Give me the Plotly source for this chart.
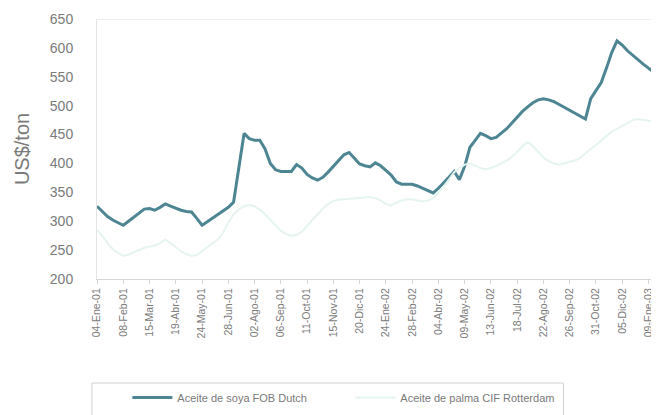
import plotly.graph_objects as go

# Weekly prices, US$/ton (Jan 2001 - Jan 2003)
soya = [326, 317, 308, 302, 298, 293, 300, 307, 315, 321,
        322, 319, 324, 330, 326, 322, 319, 317, 316, 305,
        293, 299, 305, 312, 318, 324, 333, 395, 452, 443,
        440, 440, 425, 400, 389, 386, 386, 386, 398, 392,
        381, 375, 371, 376, 385, 395, 405, 415, 419, 408,
        399, 396, 394, 401, 396, 388, 380, 368, 364, 364,
        364, 361, 357, 353, 349, 357, 366, 376, 386, 372,
        395, 428, 440, 452, 448, 443, 445, 452, 460, 470,
        480, 490, 498, 505, 510, 512, 510, 507, 502, 497,
        492, 487, 482, 477, 512, 525, 540, 565, 592, 612,
        605, 595, 587, 580, 572, 565, 557, 550]

palma = [285, 275, 262, 252, 245, 240, 242, 246, 250, 254,
         256, 258, 262, 268, 262, 255, 248, 243, 240, 242,
         248, 255, 262, 268, 280, 298, 312, 320, 326, 328,
         326, 320, 312, 302, 292, 283, 278, 275, 276, 282,
         292, 302, 312, 322, 330, 335, 337, 338, 338, 339,
         340, 341, 342, 340, 336, 330, 327, 332, 336, 338,
         338, 336, 334, 336, 340, 350, 360, 372, 385, 392,
         398, 400, 396, 392, 390, 392, 396, 400, 405, 412,
         420, 430, 437, 430, 420, 410, 404, 400, 398, 400,
         402, 405, 410, 418, 425, 432, 440, 448, 455, 460,
         465, 470, 475, 477, 476, 474, 472, 470]

tick_labels = ["04-Ene-01", "08-Feb-01", "15-Mar-01", "19-Abr-01", "24-May-01",
               "28-Jun-01", "02-Ago-01", "06-Sep-01", "11-Oct-01", "15-Nov-01",
               "20-Dic-01", "24-Ene-02", "28-Feb-02", "04-Abr-02", "09-May-02",
               "13-Jun-02", "18-Jul-02", "22-Ago-02", "26-Sep-02", "31-Oct-02",
               "05-Dic-02", "09-Ene-03"]

weeks = list(range(len(soya)))
tick_pos = [i * 5 for i in range(len(tick_labels))]

gray = "#7a7a7a"
fig = go.Figure()
fig.add_trace(go.Scatter(x=weeks, y=soya, mode="lines", name="Aceite de soya FOB Dutch",
                         line=dict(color="#4d8592", width=3)))
fig.add_trace(go.Scatter(x=weeks, y=palma, mode="lines", name="Aceite de palma CIF Rotterdam",
                         line=dict(color="#e6f4f0", width=2)))

fig.update_layout(
    width=651, height=407,
    margin=dict(l=89, r=0, t=11, b=136),
    paper_bgcolor="white", plot_bgcolor="white",
    font=dict(family="Liberation Sans, Arial, sans-serif", color=gray),
    showlegend=True,
    legend=dict(orientation="h", x=0.054, y=-0.40, xanchor="left", yanchor="top",
                borderwidth=0, bgcolor="rgba(0,0,0,0)",
                font=dict(size=11, color=gray), entrywidth=168,
                itemwidth=40),
)
fig.update_xaxes(range=[0, len(soya) - 1], tickmode="array", tickvals=tick_pos,
                 ticktext=tick_labels, tickangle=-90, tickfont=dict(size=10.5, color=gray),
                 showgrid=False, showline=True, linecolor="#d6d6d6", linewidth=1,
                 ticks="outside", ticklen=4, tickcolor="#d6d6d6", mirror=False, zeroline=False)
fig.update_yaxes(range=[200, 650], tickmode="array", tickvals=list(range(200, 651, 50)),
                 tickfont=dict(size=14, color=gray), showgrid=False,
                 showline=True, linecolor="#e4e4e4", linewidth=1, zeroline=False,
                 ticklabelstandoff=20,
                 title=dict(text="US$/ton", font=dict(size=20, color=gray), standoff=14))
fig.add_shape(type="line", xref="paper", yref="y", x0=0, x1=1, y0=650, y1=650,
              line=dict(color="#e0e0e0", width=1))
# legend frame
fig.add_shape(type="rect", xref="paper", yref="paper", x0=-0.009, x1=0.83,
              y0=-0.40, y1=-0.55, line=dict(color="#d0d0d0", width=1),
              fillcolor="rgba(0,0,0,0)", layer="below")

fig.write_html("out.html")
